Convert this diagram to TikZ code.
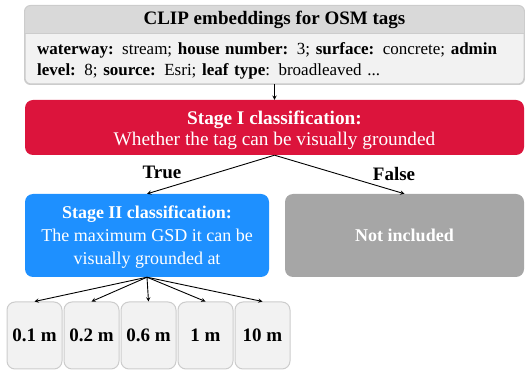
\documentclass[tikz,border=0pt]{standalone}
\usepackage{fontspec}
\setmainfont{Liberation Serif}
\usetikzlibrary{arrows}
\usepackage{xcolor}
\definecolor{stagered}{HTML}{DC143C}
\definecolor{stageblue}{HTML}{1E90FF}
\definecolor{dropgray}{HTML}{A6A6A6}
\definecolor{headgray}{HTML}{D9D9D9}
\definecolor{tagfill}{HTML}{F2F2F2}
\definecolor{tagline}{HTML}{CCCCCC}

\begin{document}
\begin{tikzpicture}[x=1pt,y=-1pt,>=stealth,
    every node/.style={font=\fontsize{17}{21}\selectfont},
    stagebox/.style={rectangle,rounded corners=8pt,inner sep=0pt},
    stagetext/.style={text=white,align=center,inner sep=0pt},
    gsdbox/.style={rectangle,rounded corners=8pt,draw=tagline,fill=tagfill,line width=1pt,
        minimum width=55pt,minimum height=67pt,font=\fontsize{19}{23}\selectfont\bfseries},
    link/.style={->,line width=0.9pt}]
    \useasboundingbox (0,0) rectangle (525,371);
    % tag box with its header band
    \node[rectangle,rounded corners=6pt,draw=tagline,fill=tagfill,line width=1pt,
        minimum width=499pt,minimum height=78pt] (tags) at (274.5,45) {};
    \begin{scope}
        \clip[rounded corners=6pt] (tags.north west) rectangle (tags.south east);
        \fill[headgray] (tags.north west) rectangle (524,34);
    \end{scope}
    \draw[tagline,line width=1pt,rounded corners=6pt] (tags.north west) rectangle (tags.south east);
    \draw[tagline,line width=1pt] (25,34) -- (524,34);
    \node[font=\fontsize{19}{23}\selectfont\bfseries] (tagtitle) at (274.5,20) {CLIP embeddings for OSM tags};
    \node[anchor=west,align=left,text width=480pt,inner sep=0pt] (taglist) at (37,61)
        {\textbf{waterway:} stream; \textbf{house number:} 3; \textbf{surface:} concrete; \textbf{admin}\\
         \textbf{level:} 8; \textbf{source:} Esri; \textbf{leaf type}: broadleaved ...};
    % stages
    \node[stagebox,fill=stagered,minimum width=499pt,minimum height=55pt] (stage1) at (274.5,127.5) {};
    \node[stagetext,font=\fontsize{19.3}{20.5}\selectfont] (stage1txt) at ([yshift=-3pt]stage1.center)
        {\textbf{Stage I classification:}\\Whether the tag can be visually grounded};
    \node[stagebox,fill=stageblue,minimum width=244pt,minimum height=83pt] (stage2) at (147,235.5) {};
    \node[stagetext,font=\fontsize{18}{23}\selectfont] (stage2txt) at ([yshift=-2pt]stage2.center)
        {\textbf{Stage II classification:}\\The maximum GSD it can be\\visually grounded at};
    \node[stagebox,fill=dropgray,minimum width=239pt,minimum height=83pt] (dropped) at (404.5,235.5) {};
    \node[stagetext,font=\fontsize{18}{23}\selectfont\bfseries] (droppedtxt) at (dropped.center) {Not included};
    \node[font=\fontsize{19}{23}\selectfont\bfseries] (truelbl) at (162,172) {True};
    \node[font=\fontsize{19}{23}\selectfont\bfseries] (falselbl) at (394,174) {False};
    % GSD boxes
    \foreach \v [count=\i] in {0.1,0.2,0.6,1,10}
        \node[gsdbox] (gsd\i) at ({34.5+57*(\i-1)},335.5) {\v\ m};
    % connectors
    \draw[link] (tags.south) -- (stage1.north);
    \draw[link] (stage1.south) -- (stage2.north);
    \draw[link] (stage1.south) -- (dropped.north);
    \foreach \i in {1,...,5}
        \draw[link] (stage2.south) -- (gsd\i.north);
\end{tikzpicture}
\end{document}
